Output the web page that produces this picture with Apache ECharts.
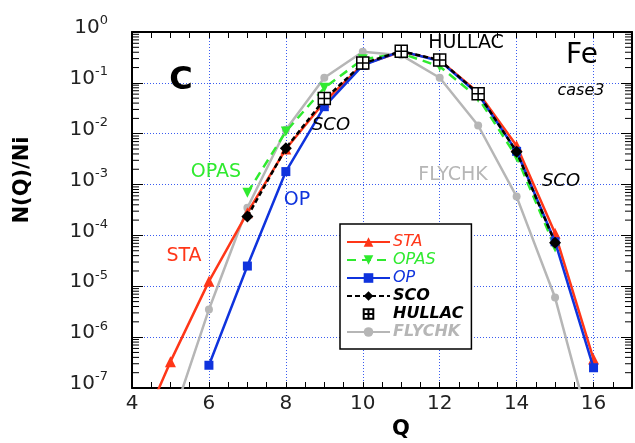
<!DOCTYPE html>
<html>
<head>
<meta charset="utf-8">
<script src="https://cdn.jsdelivr.net/npm/echarts@6/dist/echarts.min.js"></script>
<style>
  html, body { margin: 0; padding: 0; background: #fff; }
  #chart { width: 635px; height: 443px; }
</style>
</head>
<body>
<div id="chart"></div>
<script>
// Charge-state distribution N(Q)/Ni of Fe, case 3, from six codes
const qSTA    = [4, 5, 6, 7, 8, 9, 10, 11, 12, 13, 14, 15, 16];
const valSTA  = [6e-9, 3.3e-7, 1.25e-5, 2.8e-4, 5.0e-3, 0.042, 0.23, 0.41, 0.28, 0.065, 5.8e-3, 1.1e-4, 3.7e-7];

const qOPAS   = [7, 8, 9, 10, 11, 12, 13, 14, 15];
const valOPAS = [6.9e-4, 0.011, 0.08, 0.29, 0.38, 0.21, 0.051, 3.5e-3, 5.8e-5];

const qOP     = [6, 7, 8, 9, 10, 11, 12, 13, 14, 15, 16];
const valOP   = [2.8e-7, 2.5e-5, 1.8e-3, 0.034, 0.22, 0.42, 0.27, 0.06, 4.5e-3, 7.5e-5, 2.5e-7];

const qSCO    = [7, 8, 9, 10, 11, 12, 13, 14, 15];
const valSCO  = [2.35e-4, 5.2e-3, 0.047, 0.24, 0.42, 0.28, 0.062, 4.4e-3, 7.2e-5];

const qHULLAC   = [9, 10, 11, 12, 13];
const valHULLAC = [0.049, 0.245, 0.42, 0.28, 0.061];

const qFLYCHK   = [5, 6, 7, 8, 9, 10, 11, 12, 13, 14, 15, 16];
const valFLYCHK = [1.9e-8, 3.5e-6, 3.5e-4, 0.012, 0.126, 0.41, 0.35, 0.126, 0.0145, 5.8e-4, 6e-6, 9e-9];

// Axis ranges and tick labels
const xMin = 4, xMax = 17, xLabelStep = 2, xMinorStep = 0.5;
const yMin = 1e-7, yMax = 1;
const yDecades = [0, -1, -2, -3, -4, -5, -6, -7];

// Minor log ticks (2..9 in every decade) for the left and right frame
const yMinorTicks = [];
for (let e = -7; e < 0; e++) {
  for (let m = 2; m <= 9; m++) yMinorTicks.push([xMin, m * Math.pow(10, e)]);
}

const FONT = 'DejaVu Sans';
const RED = '#ff3618', GREEN = '#2fea2f', BLUE = '#0f33dd', GREY = '#b6b6b6';
const pairs = (q, v) => q.map((x, i) => [x, v[i]]);
const HULLAC_SYMBOL = 'path://M0,0H10V10H0Z M5,0V10 M0,5H10';

const chart = echarts.init(document.getElementById('chart'), null, { renderer: 'canvas' });

const gridLine = { show: true, lineStyle: { color: '#3a5cf0', type: [1, 2], width: 1 } };

const option = {
  animation: false,
  backgroundColor: '#fff',
  grid: { left: 132, right: 2, top: 32, bottom: 55, containLabel: false },
  xAxis: [
    { // bottom axis: ticks every 0.5, labels every 2
      type: 'value', min: xMin, max: xMax, interval: xMinorStep, position: 'bottom',
      axisLine: { show: true, lineStyle: { color: '#000', width: 2 } },
      axisTick: { show: true, inside: true, length: 6, lineStyle: { color: '#000', width: 1 } },
      axisLabel: {
        margin: 6, color: '#222', fontFamily: FONT, fontSize: 20,
        formatter: v => (Math.abs(v % xLabelStep) < 1e-9 && v < xMax) ? String(v) : ''
      },
      splitLine: { show: false }
    },
    { // top frame
      type: 'value', min: xMin, max: xMax, interval: xMinorStep, position: 'top',
      axisLine: { show: true, lineStyle: { color: '#000', width: 2 } },
      axisTick: { show: true, inside: true, length: 6, lineStyle: { color: '#000', width: 1 } },
      axisLabel: { show: false }, splitLine: { show: false }
    },
    { // grid lines every 2
      type: 'value', min: xMin, max: xMax, interval: xLabelStep, position: 'bottom',
      axisLine: { show: false }, axisTick: { show: false }, axisLabel: { show: false },
      splitLine: gridLine
    }
  ],
  yAxis: [
    {
      type: 'log', logBase: 10, min: yMin, max: yMax, position: 'left',
      axisLine: { show: true, lineStyle: { color: '#000', width: 2 } },
      axisTick: { show: true, inside: true, length: 11, lineStyle: { color: '#000', width: 1 } },
      axisLabel: {
        margin: 24, padding: [0, 0, 8, 0],
        formatter: v => {
          const e = Math.round(Math.log10(v));
          return yDecades.indexOf(e) >= 0 ? '{b|10}{s|' + e + '}' : '';
        },
        rich: {
          b: { fontFamily: FONT, fontSize: 20, color: '#222', lineHeight: 27 },
          s: { fontFamily: FONT, fontSize: 13, color: '#222', verticalAlign: 'top', lineHeight: 13 }
        }
      },
      splitLine: gridLine
    },
    {
      type: 'log', logBase: 10, min: yMin, max: yMax, position: 'right',
      axisLine: { show: true, lineStyle: { color: '#000', width: 2 } },
      axisTick: { show: true, inside: true, length: 11, lineStyle: { color: '#000', width: 1 } },
      axisLabel: { show: false }, splitLine: { show: false }
    }
  ],
  legend: {
    orient: 'vertical', left: 340, top: 224,
    backgroundColor: '#fff', borderColor: '#000', borderWidth: 1.5, borderRadius: 0,
    padding: [10, 8, 9, 6], itemWidth: 43, itemHeight: 12, itemGap: 2,
    textStyle: { fontFamily: FONT, fontSize: 16, lineHeight: 16, fontStyle: 'italic', padding: [0, 0, 0, -2] },
    data: [
      { name: 'STA', textStyle: { color: RED } },
      { name: 'OPAS', textStyle: { color: GREEN } },
      { name: 'OP', textStyle: { color: BLUE } },
      { name: 'SCO', textStyle: { color: '#000', fontWeight: 'bold' } },
      { name: 'HULLAC', textStyle: { color: '#000', fontWeight: 'bold' } },
      { name: 'FLYCHK', textStyle: { color: GREY, fontWeight: 'bold' } }
    ]
  },
  series: [
    {
      name: 'FLYCHK', type: 'line', z: 2, data: pairs(qFLYCHK, valFLYCHK),
      symbol: 'circle', symbolSize: 8, clip: true,
      lineStyle: { color: GREY, width: 2.5 }, itemStyle: { color: GREY }
    },
    {
      name: 'STA', type: 'line', z: 3, data: pairs(qSTA, valSTA),
      symbol: 'triangle', symbolSize: 11, clip: true,
      lineStyle: { color: RED, width: 2.5 }, itemStyle: { color: RED }
    },
    {
      name: 'OPAS', type: 'line', z: 4, data: pairs(qOPAS, valOPAS),
      symbol: 'triangle', symbolRotate: 180, symbolSize: 10, clip: true,
      lineStyle: { color: GREEN, width: 2.5, type: [9, 6] }, itemStyle: { color: GREEN }
    },
    {
      name: 'OP', type: 'line', z: 5, data: pairs(qOP, valOP),
      symbol: 'rect', symbolSize: 9, clip: true,
      lineStyle: { color: BLUE, width: 2.5 }, itemStyle: { color: BLUE }
    },
    {
      name: 'SCO', type: 'line', z: 6, data: pairs(qSCO, valSCO),
      symbol: 'diamond', symbolSize: 12, clip: true,
      lineStyle: { color: '#000', width: 2.5, type: [5, 3] }, itemStyle: { color: '#000' }
    },
    {
      name: 'HULLAC', type: 'line', z: 7, data: pairs(qHULLAC, valHULLAC),
      symbol: HULLAC_SYMBOL, symbolSize: 12, showAllSymbol: true, clip: true,
      lineStyle: { width: 0, opacity: 0 },
      itemStyle: { color: '#fff', borderColor: '#000', borderWidth: 1.5 }
    },
    {
      name: 'yMinorTicks', type: 'custom', silent: true, z: 1, clip: false,
      data: yMinorTicks,
      renderItem: (params, api) => {
        const y = api.coord([api.value(0), api.value(1)])[1];
        const cs = params.coordSys;
        const st = { stroke: '#000', lineWidth: 1 };
        return {
          type: 'group', children: [
            { type: 'line', shape: { x1: cs.x, y1: y, x2: cs.x + 7, y2: y }, style: st },
            { type: 'line', shape: { x1: cs.x + cs.width, y1: y, x2: cs.x + cs.width - 7, y2: y }, style: st }
          ]
        };
      }
    }
  ],
  graphic: [
    { type: 'text', x: 23, y: 180, rotation: Math.PI / 2, z: 100,
      style: { text: 'N(Q)/Ni', font: 'bold 21px "DejaVu Sans"', fill: '#000', align: 'center', verticalAlign: 'middle' } },
    { type: 'text', x: 401, y: 430, z: 100,
      style: { text: 'Q', font: 'bold 21px "DejaVu Sans"', fill: '#000', align: 'center', verticalAlign: 'middle' } },
    { type: 'text', x: 181, y: 81, z: 100,
      style: { text: 'C', font: 'bold 32px "DejaVu Sans"', fill: '#000', align: 'center', verticalAlign: 'middle' } },
    { type: 'text', x: 582, y: 56, z: 100,
      style: { text: 'Fe', font: '28px "DejaVu Sans"', fill: '#000', align: 'center', verticalAlign: 'middle' } },
    { type: 'text', x: 581, y: 91, z: 100,
      style: { text: 'case3', font: 'italic 16px "DejaVu Sans"', fill: '#000', align: 'center', verticalAlign: 'middle' } },
    { type: 'text', x: 466, y: 43, z: 100,
      style: { text: 'HULLAC', font: '19px "DejaVu Sans"', fill: '#000', align: 'center', verticalAlign: 'middle' } },
    { type: 'text', x: 331, y: 125, z: 100,
      style: { text: 'SCO', font: 'italic 18px "DejaVu Sans"', fill: '#000', align: 'center', verticalAlign: 'middle' } },
    { type: 'text', x: 561, y: 181, z: 100,
      style: { text: 'SCO', font: 'italic 18px "DejaVu Sans"', fill: '#000', align: 'center', verticalAlign: 'middle' } },
    { type: 'text', x: 216, y: 172, z: 100,
      style: { text: 'OPAS', font: '19px "DejaVu Sans"', fill: GREEN, align: 'center', verticalAlign: 'middle' } },
    { type: 'text', x: 297, y: 200, z: 100,
      style: { text: 'OP', font: '19px "DejaVu Sans"', fill: BLUE, align: 'center', verticalAlign: 'middle' } },
    { type: 'text', x: 184, y: 256, z: 100,
      style: { text: 'STA', font: '19px "DejaVu Sans"', fill: RED, align: 'center', verticalAlign: 'middle' } },
    { type: 'text', x: 453, y: 175, z: 100,
      style: { text: 'FLYCHK', font: '19px "DejaVu Sans"', fill: GREY, align: 'center', verticalAlign: 'middle' } }
  ]
};

chart.setOption(option);
</script>
</body>
</html>
